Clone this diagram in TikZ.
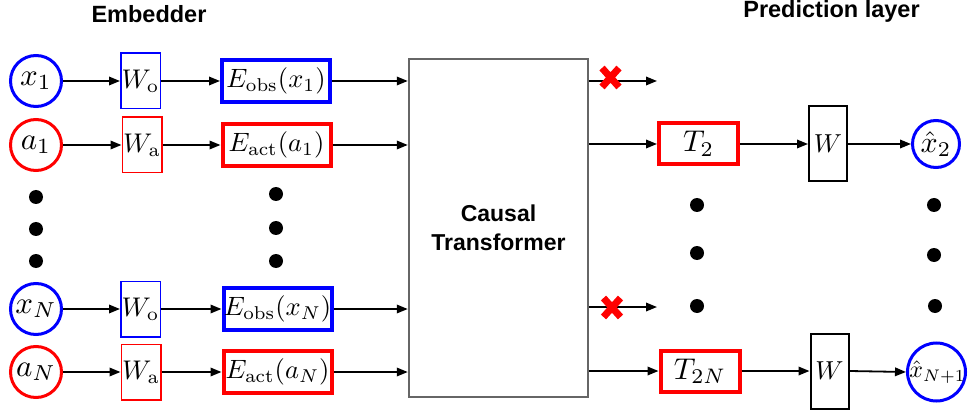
\documentclass[tikz,border=0pt]{standalone}
\usepackage{graphicx}
\usepackage[no-math]{fontspec}
\newfontfamily\arialf{Liberation Sans}
\usetikzlibrary{arrows.meta}
\definecolor{tfgray}{HTML}{666666}
\newcommand{\mysc}[2]{\scalebox{#1}{$#2$}}
\begin{document}
\begin{tikzpicture}[x=1pt,y=-1pt,
  incirc/.style={circle, draw, line width=3pt, minimum size=51pt, inner sep=0pt},
  obsc/.style={incirc, draw=blue},
  actc/.style={incirc, draw=red},
  wbox/.style={rectangle, draw, line width=1.5pt, minimum width=39.5pt, minimum height=55.5pt, inner sep=0pt},
  ebox/.style={rectangle, draw, line width=4pt, minimum width=108pt, minimum height=42pt, inner sep=0pt},
  tbox/.style={rectangle, draw=red, line width=4pt, minimum width=79pt, minimum height=41pt, inner sep=0pt},
  pbox/.style={rectangle, draw=black, line width=2pt, minimum width=38pt, minimum height=75pt, inner sep=0pt},
  arr/.style={-{Triangle[length=11pt,width=8.5pt]}, line width=1.8pt},
  bigdot/.style={circle, fill=black, minimum size=14pt, inner sep=0pt},
  title/.style={font=\arialf\bfseries\fontsize{23.5}{28}\selectfont, anchor=base},
  crossmark/.style={red, line width=7pt}
]
\useasboundingbox (0,0) rectangle (969,414);

% titles
\node[title] (emb) at (149,23) {Embedder};
\node[title] (pred) at (831.5,18) {Prediction layer};

% inputs
\node[obsc] (x1) at (36,81) {\mysc{3.1}{x_1}};
\node[actc] (a1) at (36,145) {\mysc{3.1}{a_1}};
\node[obsc] (xN) at (36,309) {\mysc{3.1}{x_N}};
\node[actc] (aN) at (36,372) {\mysc{3.1}{a_N}};

\node[wbox, draw=blue] (Wo1) at (140.5,81) {\mysc{2.7}{W_{\mathrm{o}}}};
\node[wbox, draw=red] (Wa1) at (142,145) {\mysc{2.7}{W_{\mathrm{a}}}};
\node[wbox, draw=blue] (WoN) at (140.5,309) {\mysc{2.7}{W_{\mathrm{o}}}};
\node[wbox, draw=red] (WaN) at (141,372) {\mysc{2.7}{W_{\mathrm{a}}}};

\node[ebox, draw=blue] (E1) at (276,81) {\mysc{2.65}{E_{\mathrm{obs}}(x_1)}};
\node[ebox, draw=red] (E2) at (276.5,145) {\mysc{2.65}{E_{\mathrm{act}}(a_1)}};
\node[ebox, draw=blue] (E3) at (277.5,309) {\mysc{2.65}{E_{\mathrm{obs}}(x_N)}};
\node[ebox, draw=red] (E4) at (277.5,372) {\mysc{2.65}{E_{\mathrm{act}}(a_N)}};

% transformer
\node[rectangle, draw=tfgray, line width=2.5pt, minimum width=179pt, minimum height=338pt, inner sep=0pt,
      align=center, font=\arialf\bfseries\fontsize{23}{29}\selectfont] (TF) at (498.5,228) {Causal\\Transformer};

% dots
\node[bigdot] (d1) at (36,197) {};
\node[bigdot] (d2) at (36,229) {};
\node[bigdot] (d3) at (36,261) {};
\node[bigdot] (d4) at (276,194) {};
\node[bigdot] (d5) at (276,228) {};
\node[bigdot] (d6) at (276,261) {};
\node[bigdot] (d7) at (697,205) {};
\node[bigdot] (d8) at (697,253) {};
\node[bigdot] (d9) at (697,306) {};
\node[bigdot] (d10) at (934,205) {};
\node[bigdot] (d11) at (934,255) {};
\node[bigdot] (d12) at (935,306) {};

% prediction side
\node[tbox] (T2) at (698.5,144) {\mysc{3.0}{T_2}};
\node[tbox] (T2N) at (700,371) {\mysc{3.0}{T_{2N}}};
\node[pbox] (P1) at (828,144) {\mysc{2.6}{W}};
\node[pbox] (P2) at (829.5,371) {\mysc{2.6}{W}};
\node[circle, draw=blue, line width=3pt, minimum size=47pt, inner sep=0pt] (y1) at (936,144) {\mysc{3.0}{\hat{x}_2}};
\node[circle, draw=blue, line width=3pt, minimum size=58pt, inner sep=0pt,
      label={[xshift=1pt]center:\mysc{2.4}{\hat{x}_{N+1}}}] (yN) at (936.5,372) {};

\coordinate (c1) at (657,81);
\coordinate (c2) at (657,307);

% connectors
\foreach \a/\b in {x1/Wo1, a1/Wa1, xN/WoN, aN/WaN, Wo1/E1, Wa1/E2, WoN/E3, WaN/E4}
  \draw[arr] (\a.east) -- (\b.west);
\foreach \e in {E1,E2,E3,E4}
  \draw[arr] (\e.east) -- (\e.east -| TF.west);
\draw[arr] (TF.east |- c1) -- (c1);
\draw[arr] (TF.east |- c2) -- (c2);
\draw[arr] (TF.east |- T2.west) -- (T2.west);
\draw[arr] (TF.east |- T2N.west) -- (T2N.west);
\draw[arr] (T2.east) -- (P1.west);
\draw[arr] (T2N.east) -- (P2.west);
\draw[arr] (P1.east) -- (y1.west);
\draw[arr] (P2.east) -- (yN.west);

% red crosses
\draw[crossmark] (602,68) -- (619,87) (619,68) -- (602,87);
\draw[crossmark] (603.5,298) -- (620.5,317) (620.5,298) -- (603.5,317);
\end{tikzpicture}
\end{document}
